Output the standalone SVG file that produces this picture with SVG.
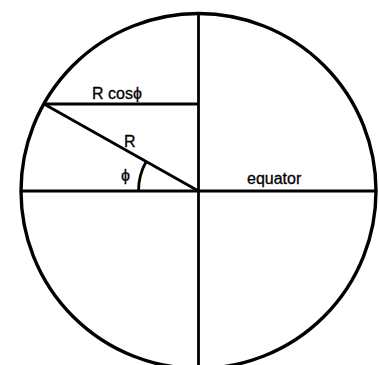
<svg xmlns="http://www.w3.org/2000/svg" width="379" height="365" viewBox="0 0 379 365">
<style>
.ln{fill:none;stroke:#000;stroke-width:2.8;stroke-linecap:butt}
.c{fill:none;stroke:#000;stroke-width:3.4}
.t{font-family:"Liberation Sans",Arial,sans-serif;font-size:16px;fill:#000;stroke:#000;stroke-width:0.3}
</style>
<rect width="379" height="365" fill="#fff"/>
<g id="globe">
<circle class="c" cx="198.5" cy="191" r="177.5"/>
</g>
<g id="connectors">
<line id="equator-line" class="ln" x1="21" y1="191" x2="376" y2="191"/>
<line id="axis" class="ln" x1="198.5" y1="13" x2="198.5" y2="365"/>
<line id="radius" class="ln" x1="198.5" y1="191" x2="44" y2="104"/>
<line id="rcos-line" class="ln" x1="44" y1="104" x2="198.5" y2="104"/>
<path id="angle-arc" class="ln" d="M138.5 191 A60 60 0 0 1 146.2 161.5"/>
</g>
<g id="labels">
<text class="t" x="92" y="99">R cos<tspan font-size="16">ϕ</tspan></text>
<text class="t" x="124" y="147">R</text>
<text class="t" x="121" y="181" font-size="17">ϕ</text>
<text class="t" x="247" y="184">equator</text>
</g>
</svg>
